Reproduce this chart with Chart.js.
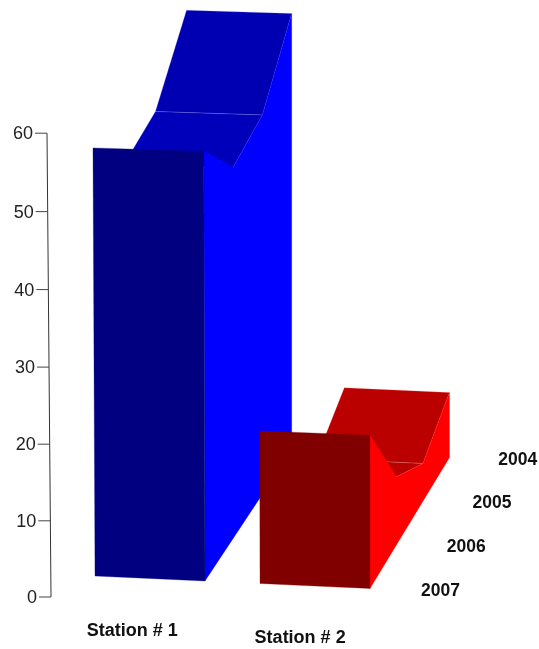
<!DOCTYPE html>
<html>
<head>
<meta charset="utf-8">
<style>html,body{margin:0;padding:0;background:#fff}canvas{display:block}</style>
<script src="https://cdn.jsdelivr.net/npm/chart.js@4/dist/chart.umd.min.js"></script>
</head>
<body>
<canvas id="c" width="539" height="649"></canvas>
<script>
// Data
const stations = ["Station # 1", "Station # 2"];
const years = ["2004", "2005", "2006", "2007"];
const station1 = [59.5, 50.7, 48.7, 55.6];
const station2 = [8.8, 5.0, 8.9, 19.7];
const tickValues = [0, 10, 20, 30, 40, 50, 60];

// Camera of the 3-D view: u = across stations, d = rows from the front, v = value
const PXV = 7.73, ZERO_Y = 597;
function project(u, d, v) {
  const k = PXV * (1 - 0.017 * d) * (1 - 0.004 * (1 - u));
  const h = v * k;
  const px = 95 + 110 * u + d * (30.5 - 1.6 * u) + h * (-0.0047 + 0.0019 * u) * (1 - d / 3);
  const py = 576 + 5 * u - 43.7 * d - h;
  return { x: px, y: (ZERO_Y - py) / PXV };
}
const barStart = [0, 1.5];
const series = [station1, station2];
const palette = [
  { front: "#000080", side: "#0000ff", tops: ["#0000b2", "#0000ba", "#0000ba"], edge: "rgba(150,150,255,0.4)" },
  { front: "#800000", side: "#ff0000", tops: ["#bb0000", "#b80000", "#b80000"], edge: "rgba(255,150,150,0.4)" }
];

function face(points, fillColor, edge) {
  return {
    data: points.concat([points[0]]),
    showLine: true, fill: "shape", tension: 0, pointRadius: 0,
    backgroundColor: fillColor, borderColor: edge || fillColor,
    borderWidth: edge ? 0.6 : 0.3, clip: false
  };
}
const datasets = [];
series.forEach((vals, s) => {
  const u0 = barStart[s], u1 = u0 + 1, c = palette[s];
  const depth = i => years.length - 1 - i;
  // roof strips, back to front; a strip that falls away from the viewer faces backwards and is not drawn
  for (let i = 0; i < years.length - 1; i++) {
    if (vals[i + 1] > vals[i] && project(u1, depth(i + 1), vals[i + 1]).y > project(u1, depth(i), vals[i]).y) continue;
    datasets.push(face([
      project(u0, depth(i), vals[i]), project(u1, depth(i), vals[i]),
      project(u1, depth(i + 1), vals[i + 1]), project(u0, depth(i + 1), vals[i + 1])
    ], c.tops[i], c.edge));
  }
  // right-hand wall
  const wall = [project(u1, depth(3), 0), project(u1, depth(0), 0)];
  for (let i = 0; i < years.length; i++) wall.push(project(u1, depth(i), vals[i]));
  datasets.push(face(wall, c.side));
  // front
  const f = vals[years.length - 1];
  datasets.push(face([project(u0, 0, 0), project(u1, 0, 0), project(u1, 0, f), project(u0, 0, f)], c.front));
});

// value axis: slanted line and tick marks, with the slight sag of the perspective view
const axisAt = v => ({ x: 51 - v * (4 / 60), y: v - (2 * v * (60 - v) / 900) / PXV });
const tickStart = v => ({ x: axisAt(v).x - 12, y: axisAt(v).y });
const axisTop = tickValues[tickValues.length - 1];
datasets.push({
  data: [axisAt(0), axisAt(axisTop)],
  showLine: true, fill: false, pointRadius: 0, borderColor: "#333", borderWidth: 1, tension: 0
});
tickValues.forEach(v => datasets.push({
  data: [tickStart(v), axisAt(v)],
  showLine: true, fill: false, pointRadius: 0, borderColor: "#444", borderWidth: 1, tension: 0
}));
// Painted in list order
datasets.forEach((d, i) => { d.order = datasets.length - i; });

const labelsPlugin = {
  id: "labels3d",
  afterDatasetsDraw(chart) {
    const { ctx, scales: { x, y } } = chart;
    ctx.save();
    ctx.textBaseline = "middle";
    ctx.fillStyle = "#222";
    ctx.textAlign = "right";
    ctx.font = '18px "Liberation Sans", Arial, sans-serif';
    y.ticks.forEach(t => {
      if (!tickValues.includes(t.value)) return;
      const p = tickStart(t.value);
      ctx.fillText(String(t.value), x.getPixelForValue(p.x) - 2, y.getPixelForValue(p.y) + 1);
    });
    ctx.fillStyle = "#111";
    ctx.textAlign = "center";
    ctx.font = 'bold 18px "Liberation Sans", Arial, sans-serif';
    stations.forEach((name, s) => {
      const p = project(barStart[s] + 0.655, -1.18, 0);
      ctx.fillText(name, x.getPixelForValue(p.x), y.getPixelForValue(p.y));
    });
    ctx.font = 'bold 17.5px "Liberation Sans", Arial, sans-serif';
    years.forEach((yr, i) => {
      const d = years.length - 1 - i;
      const p = project(3.14 + 0.006 * d, d, 0);
      ctx.fillText(yr, x.getPixelForValue(p.x) - 0.3 * d, y.getPixelForValue(p.y) - 1);
    });
    ctx.restore();
  }
};

new Chart(document.getElementById("c"), {
  type: "scatter",
  data: { datasets },
  plugins: [labelsPlugin],
  options: {
    responsive: false, animation: false,
    layout: { padding: 0 },
    plugins: { legend: { display: false }, tooltip: { enabled: false }, title: { display: false } },
    events: [],
    scales: {
      x: { type: "linear", display: false, min: 0, max: 539 },
      y: {
        type: "linear", display: false,
        min: (ZERO_Y - 649) / PXV, max: ZERO_Y / PXV,
        afterBuildTicks(scale) { scale.ticks = tickValues.map(value => ({ value })); }
      }
    }
  }
});
</script>
</body>
</html>
